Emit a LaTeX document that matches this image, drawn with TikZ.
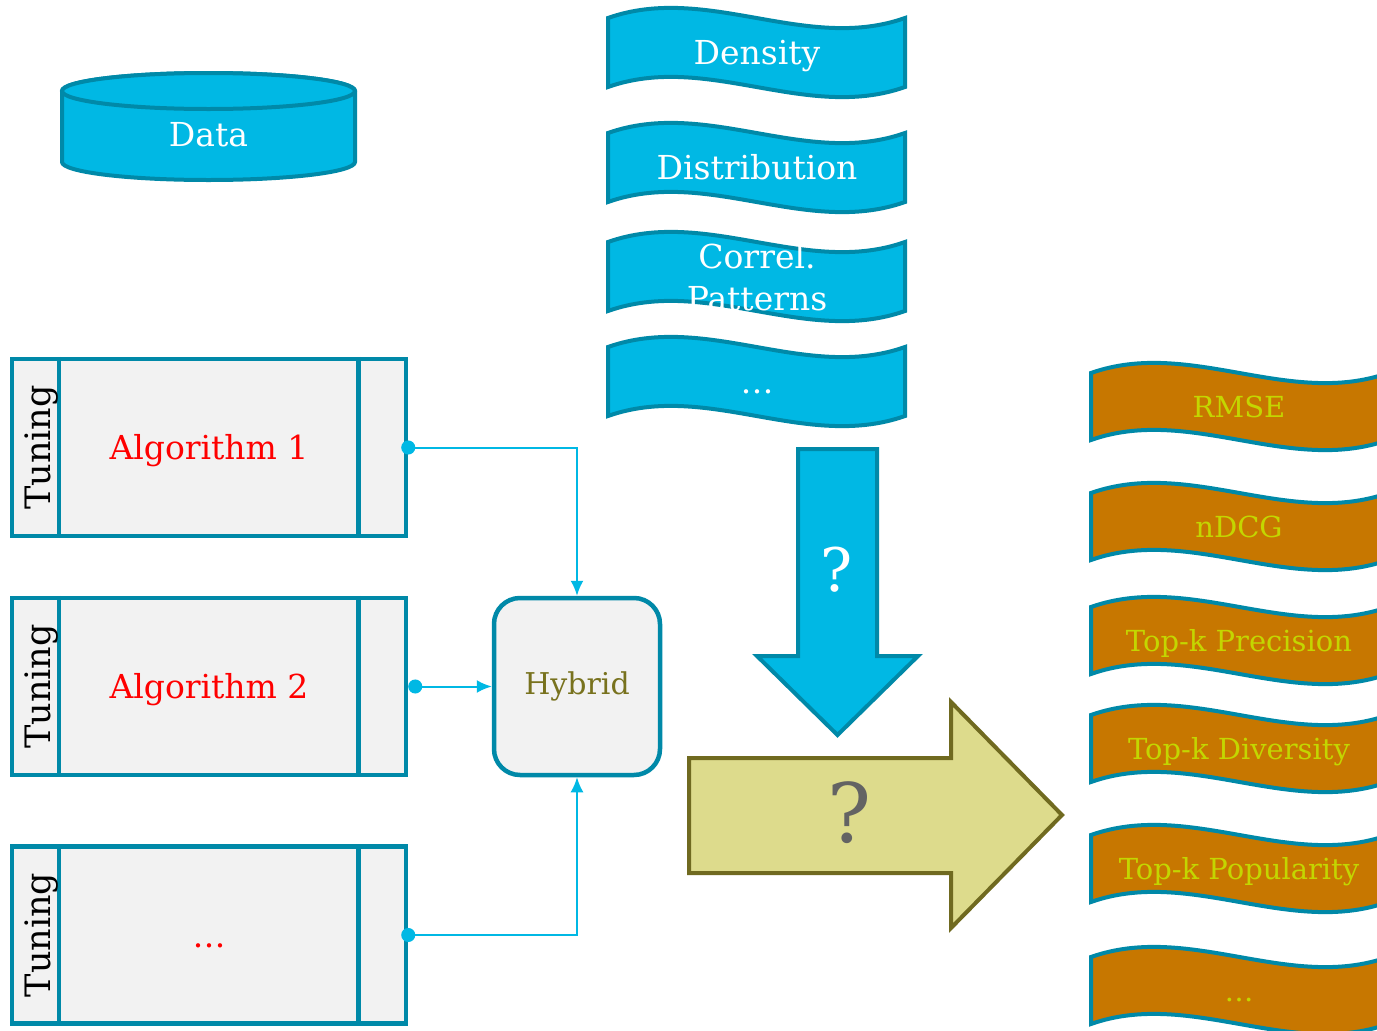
\documentclass[tikz,border=0pt]{standalone}
\usepackage{fontspec}
\setmainfont{DejaVu Serif}
\usetikzlibrary{arrows.meta}

\definecolor{cyanfill}{RGB}{0,184,228}
\definecolor{tealline}{RGB}{0,137,168}
\definecolor{boxgray}{RGB}{242,242,242}
\definecolor{algred}{RGB}{255,0,0}
\definecolor{hybtext}{RGB}{120,114,30}
\definecolor{orangefill}{RGB}{199,119,0}
\definecolor{limetext}{RGB}{196,214,0}
\definecolor{khakifill}{RGB}{221,219,140}
\definecolor{oliveline}{RGB}{112,106,32}
\definecolor{qgray}{RGB}{99,99,99}

\tikzset{
  bigfont/.style={font=\fontsize{33}{42}\selectfont},
  basefix/.style={text height=24pt, text depth=0pt},
  algbox/.style={draw=tealline, line width=4.5pt, fill=boxgray, minimum width=394pt,
    minimum height=177pt, text=algred, bigfont, basefix},
  hybbox/.style={draw=tealline, line width=4.5pt, fill=boxgray, rounded corners=26pt,
    minimum width=166pt, minimum height=177pt, text=hybtext, font=\fontsize{30}{36}\selectfont},
  bluewave/.style={draw=tealline, line width=4pt, fill=cyanfill},
  orangewave/.style={draw=tealline, line width=4pt, fill=orangefill},
  wavetext/.style={text=white, align=center, bigfont},
  metrictext/.style={text=limetext, font=\fontsize{29}{35}\selectfont, text height=21pt, text depth=0pt},
  link/.style={draw=cyanfill, line width=2pt,
    {Circle[length=14pt,width=14pt]}-{Latex[length=15pt,width=13pt]}}
}

\begin{document}
\begin{tikzpicture}[x=1pt,y=-1pt]
\useasboundingbox (0,0) rectangle (1377,1031);

% data store
\draw[bluewave] (62,91) -- (62,162) arc[start angle=180, end angle=0, x radius=146.5, y radius=18]
  -- (355,91) arc[start angle=0, end angle=-180, x radius=146.5, y radius=18] -- cycle;
\draw[bluewave] (208.5,91) ellipse [x radius=146.5, y radius=18];
\node[wavetext, basefix] (data) at (208.5,134) {Data};

% data properties
\foreach \y/\name/\lbl in {18/dens/Density, 133/dist/Distribution, 347/more/\dots} {
  \draw[bluewave] (608,\y) .. controls +(99,-35) and +(-99,35) .. (905,\y) -- ++(0,69)
    .. controls +(-99,35) and +(99,-35) .. (608,\y+69) -- cycle;
  \node[wavetext, basefix] (\name) at (757,\y+34.5) {\lbl};
}
\draw[bluewave] (608,242) .. controls +(99,-35) and +(-99,35) .. (905,242) -- ++(0,69)
  .. controls +(-99,35) and +(99,-35) .. (608,311) -- cycle;
\node[wavetext] (corr) at (757,277) {Correl.\\Patterns};

% metrics
\foreach \y/\name/\lbl in {373/rmse/RMSE, 493/ndcg/nDCG, 607/prec/Top-k Precision,
    715/div/Top-k Diversity, 835/pop/Top-k Popularity, 957/rest/\dots} {
  \draw[orangewave] (1091,\y) .. controls +(99,-35) and +(-99,35) .. (1388,\y) -- ++(0,67)
    .. controls +(-99,35) and +(99,-35) .. (1091,\y+67) -- cycle;
  \node[metrictext] (\name) at (1239,\y+33.5) {\lbl};
}

% algorithms
\foreach \i/\y/\lbl in {1/447.5/Algorithm 1, 2/686.5/Algorithm 2, 3/935/\dots} {
  \node[algbox] (alg\i) at (209,\y) {\lbl};
  \draw[draw=tealline, line width=4.5pt] ([xshift=49pt]alg\i.north west) -- ([xshift=49pt]alg\i.south west);
  \draw[draw=tealline, line width=4.5pt] ([xshift=-50pt]alg\i.north east) -- ([xshift=-50pt]alg\i.south east);
  \node[rotate=90, font=\fontsize{35}{42}\selectfont] at ([xshift=32pt]alg\i.west) {Tuning};
}

\node[hybbox] (hyb) at (577,686.5) {Hybrid};

\draw[link, shorten <=-7pt] (alg1.east) -| (hyb.north);
\draw[link] (alg2.east) -- (hyb.west);
\draw[link, shorten <=-7pt] (alg3.east) -| (hyb.south);

% block arrows
\draw[draw=tealline, line width=4pt, fill=cyanfill] (798,449) -- (877,449) -- (877,656)
  -- (918,656) -- (837.5,735) -- (757,656) -- (798,656) -- cycle;
\node[text=white, font=\fontsize{60}{70}\selectfont] (q1) at (837,570) {?};
\draw[draw=oliveline, line width=4pt, fill=khakifill] (689,758) -- (951,758) -- (951,702)
  -- (1062,815) -- (951,928) -- (951,873) -- (689,873) -- cycle;
\node[text=qgray, font=\fontsize{82}{90}\selectfont] (q2) at (849,813) {?};
\end{tikzpicture}
\end{document}
